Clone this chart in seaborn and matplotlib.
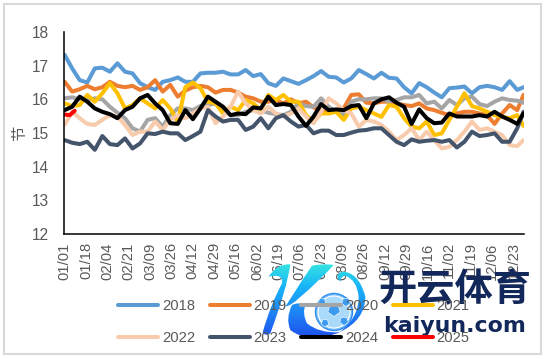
import numpy as np
import pandas as pd
import seaborn as sns
import matplotlib
matplotlib.use("Agg")
import matplotlib.pyplot as plt
from matplotlib.colors import LinearSegmentedColormap
from matplotlib.patches import Rectangle, Circle, PathPatch, RegularPolygon
from matplotlib.path import Path

days = list(range(0, 361, 6)) + [365]
days_2025 = [0, 4, 8]

tick_days = list(range(0, 358, 17))
tick_labels = ["01/01", "01/18", "02/04", "02/21", "03/09", "03/26", "04/12", "04/29",
               "05/16", "06/02", "06/19", "07/06", "07/23", "08/09", "08/26", "09/12",
               "09/29", "10/16", "11/02", "11/19", "12/06", "12/23"]

y2018 = [17.32, 16.92, 16.57, 16.50, 16.92, 16.94, 16.82, 17.07, 16.82, 16.77, 16.48, 16.36, 16.28, 16.52, 16.57,
         16.65, 16.52, 16.52, 16.77, 16.79, 16.79, 16.82, 16.74, 16.74, 16.87, 16.69, 16.75, 16.48, 16.40,
         16.62, 16.54, 16.46, 16.57, 16.69, 16.84, 16.67, 16.65, 16.50, 16.62, 16.87, 16.75, 16.62, 16.79, 16.64,
         16.62, 16.36, 16.18, 16.48, 16.36, 16.20, 16.06, 16.33, 16.35, 16.38, 16.18, 16.36, 16.40, 16.36, 16.28,
         16.54, 16.28, 16.36]
y2019 = [16.52, 16.23, 16.30, 16.40, 16.30, 16.36, 16.52, 16.40, 16.36, 16.40, 16.28, 16.36, 16.57, 16.23, 16.43,
         16.08, 16.26, 16.36, 16.40, 16.36, 16.20, 16.28, 16.28, 16.20, 16.08, 16.03, 15.93, 15.93, 15.98,
         15.88, 16.00, 15.88, 15.93, 15.76, 15.68, 15.63, 15.68, 15.73, 16.13, 16.15, 15.90, 15.88, 15.93, 15.93,
         15.88, 15.83, 15.80, 15.88, 15.73, 15.68, 15.60, 15.53, 15.58, 15.63, 15.63, 15.58, 15.53, 15.27, 15.58,
         15.83, 15.68, 16.13]
y2020 = [16.03, 16.06, 16.00, 15.98, 16.03, 16.00, 15.78, 15.60, 15.44, 15.14, 15.04, 15.39, 15.44, 15.19, 15.53,
         15.73, 15.73, 15.68, 15.80, 15.83, 15.88, 15.68, 15.53, 15.53, 15.63, 15.68, 15.68, 15.60, 15.56,
         15.53, 15.63, 15.88, 15.80, 15.78, 16.03, 15.78, 15.63, 15.53, 15.93, 16.00, 16.00, 16.03, 16.03, 15.93,
         15.98, 16.06, 16.06, 16.13, 15.88, 15.93, 15.73, 15.98, 15.83, 16.03, 16.08, 15.86, 15.80, 15.93, 16.03,
         15.98, 15.96, 15.90]
y2021 = [15.88, 15.80, 15.83, 16.13, 15.93, 16.18, 16.48, 16.18, 15.73, 15.83, 16.03, 15.88, 15.73, 15.98, 15.73,
         15.34, 16.36, 16.50, 16.33, 15.93, 15.88, 15.58, 15.78, 15.68, 15.98, 15.88, 15.68, 16.13, 15.98,
         16.13, 15.93, 15.93, 15.53, 15.34, 15.58, 15.58, 15.63, 15.39, 15.73, 15.78, 15.68, 15.58, 15.48, 15.83,
         15.78, 15.44, 15.19, 15.14, 15.34, 14.94, 14.99, 15.39, 15.78, 16.18, 15.80, 15.73, 15.63, 15.53, 15.48,
         15.44, 15.53, 15.21]
y2022 = [15.24, 15.63, 15.44, 15.27, 15.24, 15.39, 15.53, 15.49, 15.24, 14.94, 15.04, 15.04, 15.34, 15.09, 15.39,
         15.53, 15.44, 15.58, 15.73, 15.78, 15.29, 15.49, 15.78, 16.23, 15.88, 15.68, 15.58, 15.78, 15.58,
         15.49, 15.58, 15.73, 15.49, 15.29, 15.63, 16.03, 15.88, 15.68, 15.58, 15.19, 15.39, 15.34, 15.24, 15.04,
         14.79, 14.94, 15.14, 14.79, 15.04, 14.79, 14.54, 14.59, 14.79, 15.04, 15.34, 15.09, 15.14, 15.04, 14.94,
         14.64, 14.61, 14.79]
y2023 = [14.79, 14.71, 14.67, 14.74, 14.50, 14.91, 14.67, 14.64, 14.84, 14.54, 14.69, 14.99, 14.97, 15.04, 14.99,
         14.99, 14.79, 14.91, 15.04, 15.68, 15.49, 15.34, 15.39, 15.39, 15.09, 15.19, 15.44, 15.14, 15.44,
         15.53, 15.34, 15.19, 15.24, 14.99, 15.07, 15.07, 14.94, 14.94, 15.01, 15.07, 15.09, 15.14, 15.14, 14.94,
         14.74, 14.64, 14.81, 14.74, 14.77, 14.79, 14.74, 14.79, 14.57, 14.74, 15.04, 14.91, 14.94, 14.99, 14.74,
         14.74, 15.14, 15.63]
y2024 = [15.68, 15.78, 16.08, 15.93, 15.73, 15.63, 15.56, 15.44, 15.68, 15.78, 16.03, 16.13, 15.88, 15.68, 15.29,
         15.27, 15.68, 15.41, 15.73, 16.08, 15.93, 15.78, 15.53, 15.58, 15.56, 15.76, 15.73, 16.08, 15.83,
         15.86, 15.83, 15.49, 15.21, 15.49, 15.86, 15.68, 15.70, 15.68, 15.80, 15.83, 15.44, 15.88, 16.00, 16.06,
         15.90, 15.78, 15.27, 15.70, 15.44, 15.29, 15.31, 15.58, 15.49, 15.49, 15.49, 15.53, 15.49, 15.63, 15.49,
         15.39, 15.27, 15.58]
y2025 = [15.55, 15.53, 15.66]

years = ["2018", "2019", "2020", "2021", "2022", "2023", "2024", "2025"]
colors = ["#5B9BD5", "#ED7D31", "#A5A5A5", "#FFC000", "#F8CBAD", "#44546A", "#000000", "#FF0000"]

sns.set_style("white")
plt.rcParams["font.family"] = ["Liberation Sans", "Noto Sans CJK SC", "DejaVu Sans"]

fig = plt.figure(figsize=(5.47, 3.60), dpi=100, facecolor="white")
ax = fig.add_axes([64 / 547, 1 - 234 / 360, (523.5 - 64) / 547, (234 - 32) / 360])

series = [y2018, y2019, y2020, y2021, y2022, y2023, y2024]
for year, color, vals in zip(years[:-1], colors[:-1], series):
    df = pd.DataFrame({"day": days, "value": vals})
    sns.lineplot(data=df, x="day", y="value", color=color, linewidth=2.9, label=year, ax=ax,
                 solid_joinstyle="round", solid_capstyle="round")
sns.lineplot(x=days_2025, y=y2025, color=colors[-1], linewidth=2.9, label=years[-1], ax=ax,
             solid_joinstyle="round", solid_capstyle="round")

ax.set_xlim(-0.5, 365)
ax.set_ylim(12, 18)
ax.set_xticks(tick_days)
ax.set_xticklabels(tick_labels, rotation=90, fontsize=10.6, color="#595959")
ax.set_yticks(range(12, 19))
ax.tick_params(axis="y", labelsize=11.2, labelcolor="#595959", length=0, pad=11)
ax.tick_params(axis="x", length=0, pad=6)
ax.set_xlabel("")
ax.set_ylabel("")
ax.grid(False)
ax.patch.set_alpha(0)
sns.despine(ax=ax)
for side in ["left", "bottom"]:
    ax.spines[side].set_color("black")
    ax.spines[side].set_linewidth(1.1)

# legend reads across the rows, matplotlib fills by column
handles, labels = ax.get_legend_handles_labels()
order = [0, 4, 1, 5, 2, 6, 3, 7]
fig.legend([handles[i] for i in order], [labels[i] for i in order], ncol=4,
           loc="center", bbox_to_anchor=(294 / 547, 1 - 322 / 360), frameon=False,
           fontsize=10.6, labelcolor="#595959", handlelength=2.72, handletextpad=0.25,
           columnspacing=1.0, labelspacing=1.25, borderpad=0)
ax.get_legend().remove()

# pixel layer for the outer frame and the watermark
top = fig.add_axes([0, 0, 1, 1], facecolor="none", zorder=5)
top.set_xlim(0, 547)
top.set_ylim(360, 0)
top.axis("off")
top.add_patch(Rectangle((4, 4), 536.5, 350, fill=False, edgecolor="#D9D9D9", linewidth=1.5))
top.text(20, 133, "节", rotation=90, fontsize=11, color="#595959", ha="center", va="center",
         family=["Noto Sans CJK SC", "DejaVu Sans"])


def logo_px(pts):
    return [(262 + x / 3, 255 + y / 3) for x, y in pts]


M, L, C = Path.MOVETO, Path.LINETO, Path.CURVE3
logo_shapes = [
    ([(2, 232), (25, 150), (60, 85), (65, 55), (20, 65), (45, 25), (85, 28), (75, 100), (25, 235), (10, 245), (2, 232)],
     [M, C, C, C, C, C, C, C, C, C, C]),
    ([(70, 155), (130, 60), (150, 32), (185, 25), (215, 30), (170, 80), (110, 130), (90, 150), (70, 155)],
     [M, C, C, C, C, C, C, C, C]),
    ([(90, 150), (70, 190), (85, 225), (115, 250), (160, 245), (200, 245), (235, 232), (170, 235), (135, 205),
      (120, 175), (130, 150), (110, 140), (90, 150)],
     [M, C, C, C, C, C, C, C, C, C, C, C, C]),
    ([(235, 80), (215, 60), (240, 50), (290, 50), (310, 125), (310, 195), (232, 232), (290, 190), (290, 125),
      (285, 75), (250, 62), (235, 65), (235, 80)],
     [M, C, C, C, C, C, C, C, C, C, C, C, C]),
]
verts, codes = [], []
for pts, code in logo_shapes:
    verts += logo_px(pts)
    codes += code
logo_path = Path(verts, codes)
logo_cmap = LinearSegmentedColormap.from_list("logo", ["#35E6E0", "#18B4F8", "#1E86F5", "#1F55EE"])
img = top.imshow(np.linspace(0, 1, 64)[:, None], cmap=logo_cmap, extent=(262, 372, 336, 262), aspect="auto")
img.set_clip_path(PathPatch(logo_path, transform=top.transData))
top.set_xlim(0, 547)
top.set_ylim(360, 0)

top.add_patch(Circle((334, 312), 18.5, facecolor="#7CC3F7", edgecolor="#2F8DF0", linewidth=1.0))
top.add_patch(Circle((334, 312), 16, facecolor="#A9DAFA", edgecolor="white", linewidth=0.8))
for cx, cy, r in [(334, 310, 6.5), (346, 302, 4.5), (322, 302, 4), (344, 321, 4.5), (325, 323, 4)]:
    top.add_patch(RegularPolygon((cx, cy), 5, radius=r, facecolor="#3E9BF2", edgecolor="white", linewidth=0.4))

top.text(455, 290, "开云体育", fontsize=27.5, color="#12285A", fontweight="bold", ha="center", va="center",
         family=["Noto Sans CJK SC", "DejaVu Sans"])
top.text(455, 326, "kaiyun.com", fontsize=15.8, color="#12285A", fontweight="bold", ha="center", va="center",
         family=["DejaVu Sans"])

fig.savefig("out.png", dpi=100)
plt.close(fig)
